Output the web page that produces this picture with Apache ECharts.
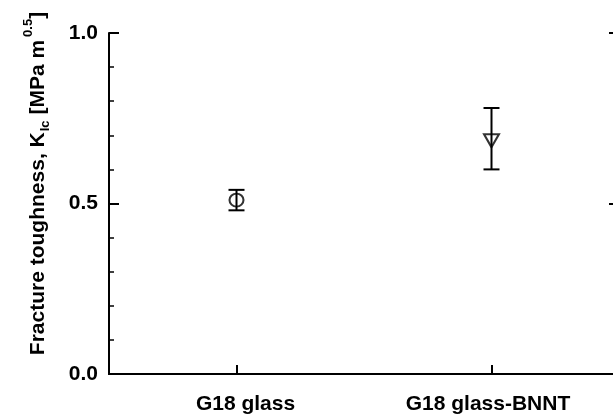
<!DOCTYPE html>
<html>
<head>
<meta charset="utf-8">
<script src="https://cdn.jsdelivr.net/npm/echarts@6/dist/echarts.min.js"></script>
<style>
  html, body { margin: 0; padding: 0; background: #fff; overflow: hidden; }
  #chart { width: 625px; height: 417px; }
</style>
</head>
<body>
<div id="chart"></div>
<script>
// ---- data ----
const categories = ['G18 glass', 'G18 glass-BNNT'];
const meanValues = [0.51, 0.69];
const lowerValues = [0.48, 0.60];
const upperValues = [0.54, 0.78];
const yTickValues = [0.0, 0.5, 1.0];
const yTickLabels = ['0.0', '0.5', '1.0'];

const FONT = 'Liberation Sans, Arial, sans-serif';
const chart = echarts.init(document.getElementById('chart'));

const errData = categories.map((c, i) => [i, lowerValues[i], upperValues[i]]);
const meanData = categories.map((c, i) => [i, meanValues[i]]);
const symbols = ['circle', 'triangle'];

chart.setOption({
  animation: false,
  backgroundColor: '#fff',
  grid: { left: 109, top: 33, width: 510, height: 341, containLabel: false },
  xAxis: [
    {
      type: 'category',
      data: categories,
      position: 'bottom',
      boundaryGap: true,
      axisLine: { show: true, lineStyle: { color: '#000', width: 2 } },
      axisTick: { show: true, inside: true, alignWithLabel: true, length: 9, lineStyle: { color: '#000', width: 2 } },
      axisLabel: {
        interval: 0,
        hideOverlap: false,
        margin: 20,
        color: '#000',
        fontFamily: FONT,
        fontWeight: 'bold',
        fontSize: 21,
        formatter: (v, i) => (i === 0 ? '{a|' + v + '}' : '{b|' + v + '}'),
        rich: {
          a: { fontFamily: FONT, fontWeight: 'bold', fontSize: 21, color: '#000', padding: [0, 0, 0, 18] },
          b: { fontFamily: FONT, fontWeight: 'bold', fontSize: 21, color: '#000', padding: [0, 7, 0, 0] }
        }
      },
      splitLine: { show: false }
    },
    {
      type: 'category',
      data: categories,
      position: 'top',
      boundaryGap: true,
      axisLine: { show: true, lineStyle: { color: '#000', width: 2 } },
      axisTick: { show: false },
      axisLabel: { show: false },
      splitLine: { show: false }
    }
  ],
  yAxis: [
    {
      type: 'value',
      min: 0, max: 1, interval: 0.5,
      position: 'left',
      axisLine: { show: true, lineStyle: { color: '#000', width: 2 } },
      axisTick: { show: true, inside: true, length: 10, lineStyle: { color: '#000', width: 2 } },
      minorTick: { show: true, splitNumber: 5, length: 5, lineStyle: { color: '#000', width: 1.5 } },
      splitLine: { show: false },
      minorSplitLine: { show: false },
      axisLabel: {
        margin: 11,
        color: '#000',
        fontFamily: FONT,
        fontWeight: 'bold',
        fontSize: 21,
        formatter: v => {
          const idx = yTickValues.findIndex(t => Math.abs(t - v) < 1e-9);
          return idx >= 0 ? yTickLabels[idx] : '';
        }
      },
      name: '{a|Fracture toughness, K}{sub|Ic}{a| [MPa m}{sup|0.5}{a|]}',
      nameLocation: 'middle',
      nameRotate: 90,
      nameGap: 54,
      nameTextStyle: {
        color: '#000',
        fontFamily: FONT,
        fontWeight: 'bold',
        fontSize: 21,
        padding: [0, 0, 0, 40],
        rich: {
          a: { fontFamily: FONT, fontWeight: 'bold', fontSize: 21, color: '#000' },
          sub: { fontFamily: FONT, fontWeight: 'bold', fontSize: 13, color: '#000', padding: [14, 0, 0, 1] },
          sup: { fontFamily: FONT, fontWeight: 'bold', fontSize: 13, color: '#000', padding: [0, 0, 20, 3] }
        }
      }
    },
    {
      type: 'value',
      min: 0, max: 1, interval: 0.5,
      position: 'right',
      axisLine: { show: true, lineStyle: { color: '#000', width: 2 } },
      axisTick: { show: true, inside: true, length: 10, lineStyle: { color: '#000', width: 2 } },
      minorTick: { show: true, splitNumber: 5, length: 5, lineStyle: { color: '#000', width: 1.5 } },
      splitLine: { show: false },
      axisLabel: { show: false }
    }
  ],
  series: [
    {
      type: 'custom',
      xAxisIndex: 0,
      yAxisIndex: 0,
      data: errData,
      encode: { x: 0, y: [1, 2] },
      z: 2,
      renderItem: function (params, api) {
        const x = api.value(0);
        const pLo = api.coord([x, api.value(1)]);
        const pHi = api.coord([x, api.value(2)]);
        const hw = 8;
        const st = { stroke: '#000', lineWidth: 2 };
        return {
          type: 'group',
          children: [
            { type: 'line', shape: { x1: pLo[0], y1: pLo[1], x2: pHi[0], y2: pHi[1] }, style: st },
            { type: 'line', shape: { x1: pLo[0] - hw, y1: pLo[1], x2: pLo[0] + hw, y2: pLo[1] }, style: st },
            { type: 'line', shape: { x1: pHi[0] - hw, y1: pHi[1], x2: pHi[0] + hw, y2: pHi[1] }, style: st }
          ]
        };
      }
    },
    {
      type: 'scatter',
      xAxisIndex: 0,
      yAxisIndex: 0,
      data: meanData,
      z: 3,
      symbol: (val, p) => symbols[p.dataIndex],
      symbolSize: (val, p) => (p.dataIndex === 0 ? [14, 13] : [15, 13]),
      symbolRotate: (val, p) => (p.dataIndex === 0 ? 0 : 180),
      symbolOffset: (val, p) => (p.dataIndex === 0 ? [0, 0] : [0, 2]),
      itemStyle: { color: 'rgba(0,0,0,0)', borderColor: '#000', borderWidth: 2 },
      emphasis: { disabled: true }
    }
  ]
});
</script>
</body>
</html>
